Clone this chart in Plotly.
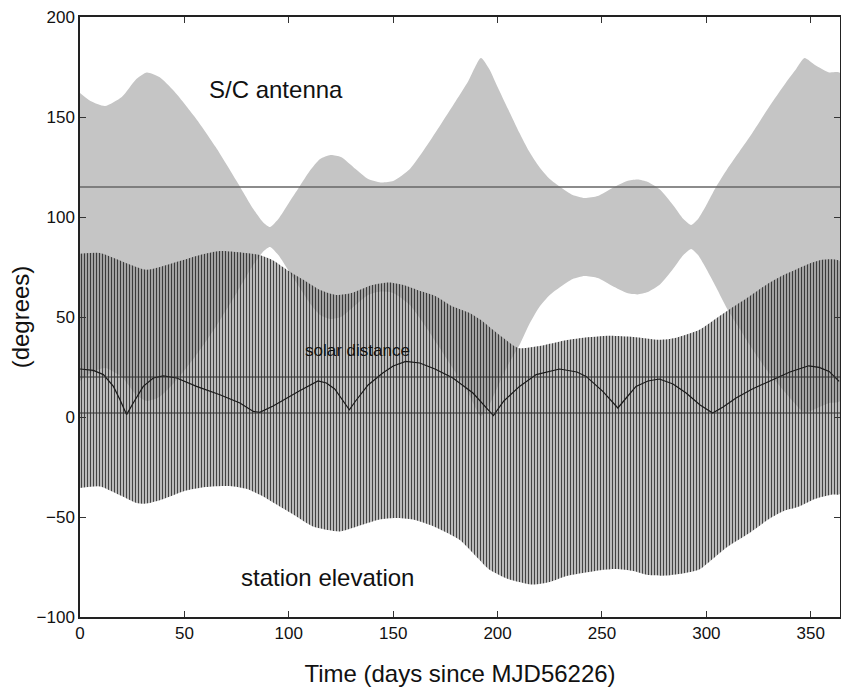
import plotly.graph_objects as go

# ---- S/C antenna band (degrees) ----
sc_days = [0, 5, 12, 20, 27, 32, 38, 45, 55, 65, 75, 83, 88, 91, 95, 100, 105, 110, 115, 120,
           125, 132, 138, 144, 150, 158, 165, 172, 180, 186, 192, 196, 200, 205, 210.5, 215, 220,
           225, 230, 236, 241.6, 248, 255, 262, 267, 272, 278, 284, 289, 292.7, 296, 300, 304.6,
           310, 316, 322, 330, 338, 343, 347, 352, 358.8, 364]
sc_upper = [162, 158, 155.5, 160, 169, 172.3, 170, 163, 150, 135, 118, 104, 97, 95, 99, 107, 115,
            123, 129, 131, 130, 124, 119, 117.3, 118, 124, 134, 145, 158, 168, 179.5, 174, 165, 154,
            142, 133, 125, 119, 115, 111, 109.5, 110.5, 114.5, 118, 118.7, 117.5, 113.5, 106, 99, 96,
            99, 106, 115, 124, 133, 142, 155, 167, 174, 179.5, 176, 172.3, 172]
sc_lower = [18, 22, 24.5, 20, 11, 8, 10, 17, 30, 45, 62, 76, 83, 85, 81, 73, 65, 57, 51, 49, 50,
            56, 61, 62.7, 62, 56, 46, 35, 22, 12, 0.5, 6, 15, 26, 36, 46, 55, 61, 65, 69, 70.5, 69.5,
            65.5, 62, 61.3, 62.5, 66.5, 74, 81, 84, 81, 74, 65, 54, 44, 34, 22, 12, 6, 2, 4, 7, 8]

# ---- station elevation envelope (degrees) ----
st_up_days = [0, 9.6, 22, 31.9, 44.6, 57.4, 67, 75, 86, 92.5, 100, 107, 115, 122.8, 130, 140, 148,
              155, 163, 170.6, 178, 186.6, 192, 197.8, 204, 209.8, 220, 229.9, 240, 253.8, 265,
              277.7, 285, 296.7, 305, 312, 320.6, 330, 337, 344.5, 350, 355.5, 364]
st_upper = [81.6, 82, 77, 73.6, 77, 81, 83, 82.5, 81, 78.3, 73, 68.6, 63.5, 61, 62, 66, 67.3, 66,
            63, 60.3, 55.5, 52, 48.5, 43.6, 38.5, 34.5, 35.5, 37.8, 39.5, 40.6, 40, 38.6, 39.5,
            43.6, 49.5, 54.5, 60.3, 67, 71, 74.5, 77, 78.6, 77.8]
st_lo_days = [0, 9.6, 20, 27, 31.9, 40, 50, 60, 71.8, 80, 87.7, 95.7, 103.7, 111.6, 124.4, 132,
              143.5, 151, 159.5, 170, 181.8, 190, 196, 205, 216.9, 225, 233, 240.8, 250, 256.8,
              265, 272, 280.7, 290, 296.6, 303, 310, 320.6, 330, 337, 344.5, 352, 360.4, 364]
st_lower = [-35.5, -34.7, -39.5, -43, -43.3, -41, -37, -35, -34.5, -36, -39.7, -44.7, -49.7, -54.7,
            -57.2, -55, -51.3, -50.5, -51.3, -55, -61.4, -70, -76.3, -81, -83.8, -82.5, -79.5, -78,
            -76.5, -76, -77, -79, -79.3, -78, -76.3, -71, -65, -58, -51, -47, -44.7, -41, -38.8,
            -38.5]

# ---- solar distance (degrees) ----
sol_days = [0, 6.4, 11.2, 16, 19.1, 22.3, 25.5, 30.3, 35.1, 39.9, 46.3, 55.8, 67, 76.6, 83, 86.1,
            92.5, 97.3, 105, 114, 118, 122, 126, 129, 132, 138, 145, 150, 156, 162.7, 170, 178.6,
            188.2, 198, 203, 210.5, 218.5, 229.7, 238, 242.4, 250.4, 257.6, 262, 266.3, 272,
            277.5, 284, 290.3, 297, 303, 308, 314.2, 322, 330.1, 340, 349, 354, 358.8, 363.6]
sol_vals = [24, 23.3, 21.2, 15.3, 8.7, 1.2, 7, 15.3, 19.5, 20.6, 19.5, 15.3, 11.1, 7, 2.8, 2.3,
            5.5, 8.5, 13, 18, 17, 14, 8, 3.6, 8, 16, 22, 25.5, 27.8, 27, 24, 19.5, 12, 0.7, 8,
            15.3, 21.2, 24, 22.5, 20.3, 12.8, 4.5, 10, 15.3, 18, 19, 16.5, 12, 6, 2, 5, 9.5, 14,
            17.8, 22.5, 25.6, 24.8, 22.8, 17.8]

ref_levels = [115, 20, 2]
ref_colors = ["#666666", "#333333", "#333333"]

x_ticks = [0, 50, 100, 150, 200, 250, 300, 350]
y_ticks = [-100, -50, 0, 50, 100, 150, 200]

FONT = "Liberation Sans, Arial, Helvetica, sans-serif"

fig = go.Figure()

# S/C antenna band
fig.add_trace(go.Scatter(
    x=sc_days + sc_days[::-1], y=sc_upper + sc_lower[::-1],
    fill="toself", fillcolor="#c5c5c5", line=dict(width=0, shape="spline", smoothing=0.6),
    mode="lines", hoverinfo="skip", showlegend=False))

# Station elevation (daily oscillation drawn as vertical hatch)
fig.add_trace(go.Scatter(
    x=st_up_days + st_lo_days[::-1], y=st_upper + st_lower[::-1],
    fill="toself", fillcolor="rgba(140,140,140,0.6)",
    line=dict(width=0, shape="spline", smoothing=0.6), mode="lines",
    fillpattern=dict(shape="|", fgcolor="rgba(15,15,15,0.78)", bgcolor="rgba(140,140,140,0.6)",
                     size=3, solidity=0.3, fillmode="replace"),
    hoverinfo="skip", showlegend=False))

for lv, c in zip(ref_levels, ref_colors):
    fig.add_hline(y=lv, line=dict(color=c, width=1.4 if lv == 115 else 1))

# solar distance curve
fig.add_trace(go.Scatter(
    x=sol_days, y=sol_vals, mode="lines", line=dict(color="#1a1a1a", width=1.2),
    hoverinfo="skip", showlegend=False))

fig.add_annotation(x=93.7, y=163.6, text="S/C antenna", showarrow=False,
                   font=dict(family=FONT, size=24, color="#111111"))
fig.add_annotation(x=118.4, y=-80, text="station elevation", showarrow=False,
                   font=dict(family=FONT, size=24, color="#111111"))
fig.add_annotation(x=133, y=33.3, text="solar distance", showarrow=False,
                   font=dict(family=FONT, size=17, color="#111111"))

axis_common = dict(showgrid=False, zeroline=False, showline=True, linecolor="#222222",
                   linewidth=1.5, mirror="ticks", ticks="inside", ticklen=6, tickwidth=1,
                   tickcolor="#333333", automargin=False,
                   tickfont=dict(family=FONT, size=17, color="#111111"))

fig.update_xaxes(range=[0, 364], tickvals=x_ticks, ticktext=[str(v) for v in x_ticks],
                 title=dict(text="Time (days since MJD56226)", standoff=23,
                            font=dict(family=FONT, size=24, color="#111111")),
                 **axis_common)
fig.update_yaxes(range=[-100, 200], tickvals=y_ticks,
                 ticktext=[("\u2212" + str(-v)) if v < 0 else str(v) for v in y_ticks],
                 title=dict(text="(degrees)", standoff=0,
                            font=dict(family=FONT, size=24, color="#111111")),
                 **axis_common)

fig.update_layout(width=841, height=694, margin=dict(l=80, r=1, t=17, b=77),
                  plot_bgcolor="white", paper_bgcolor="white",
                  font=dict(family=FONT))

fig.write_html("out.html", config={"displayModeBar": False},
               post_script="document.body.style.margin='0px';"
                           "document.body.style.overflow='hidden';")
